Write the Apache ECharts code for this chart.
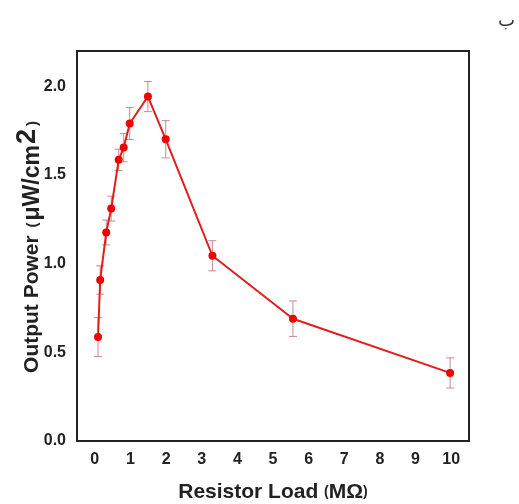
<!DOCTYPE html>
<html>
<head>
<meta charset="utf-8">
<script src="https://cdn.jsdelivr.net/npm/echarts@6/dist/echarts.min.js"></script>
<style>
html,body{margin:0;padding:0;background:#fff;}
#chart{width:519px;height:504px;}
</style>
</head>
<body>
<div id="chart"></div>
<script>
// Data
const xVals = [0.09, 0.15, 0.32, 0.46, 0.67, 0.81, 0.98, 1.49, 1.99, 3.30, 5.56, 9.97];
const yVals = [0.586, 0.908, 1.176, 1.311, 1.586, 1.655, 1.791, 1.943, 1.702, 1.045, 0.690, 0.384];
const errVals = [0.11, 0.08, 0.07, 0.07, 0.06, 0.08, 0.09, 0.085, 0.105, 0.085, 0.10, 0.085];
const xTicks = [0, 1, 2, 3, 4, 5, 6, 7, 8, 9, 10];
const yTicks = [0, 0.5, 1.0, 1.5, 2.0];

const points = xVals.map((x, i) => [x, yVals[i]]);
const errData = xVals.map((x, i) => [x, yVals[i] - errVals[i], yVals[i] + errVals[i]]);

const chart = echarts.init(document.getElementById('chart'), null, {renderer: 'canvas'});
const font = '"Liberation Sans", Arial, sans-serif';

chart.setOption({
  animation: false,
  backgroundColor: '#fff',
  grid: {left: 77, right: 50, top: 51, bottom: 63, outerBoundsMode: 'none', containLabel: false,
         show: true, borderColor: '#222', borderWidth: 2, backgroundColor: 'transparent'},
  xAxis: {
    type: 'value', min: -0.5, max: 10.5,
    axisLine: {show: false}, axisTick: {show: false}, splitLine: {show: false},
    axisLabel: {customValues: xTicks, fontFamily: font, fontWeight: 'bold', fontSize: 16, color: '#222', margin: 11},
    name: '{a|Resistor Load }{p|(}{a|MΩ}{p|)}',
    nameLocation: 'middle', nameGap: 41, nameMoveOverlap: false,
    nameTextStyle: {rich: {
      a: {fontFamily: font, fontWeight: 'bold', fontSize: 21, color: '#222'},
      p: {fontFamily: font, fontWeight: 'bold', fontSize: 14, color: '#222'}
    }}
  },
  yAxis: {
    type: 'value', min: 0, max: 2.2,
    axisLine: {show: false}, axisTick: {show: false}, splitLine: {show: false},
    axisLabel: {customValues: yTicks, formatter: v => v.toFixed(1), fontFamily: font, fontWeight: 'bold', fontSize: 16, color: '#222', margin: 11},
    name: '{a|Output Power }{p|(}{u|μW/cm}{s|2}{p|)}',
    nameLocation: 'middle', nameGap: 26, nameMoveOverlap: false,
    nameTextStyle: {rich: {
      a: {fontFamily: font, fontWeight: 'bold', fontSize: 21, color: '#222'},
      u: {fontFamily: font, fontWeight: 'bold', fontSize: 23, color: '#222'},
      s: {fontFamily: font, fontWeight: 'bold', fontSize: 27, color: '#222', verticalAlign: 'top', padding: [0, 1, 10, 1]},
      p: {fontFamily: font, fontWeight: 'bold', fontSize: 15, color: '#222', padding: [0, 2]}
    }}
  },
  graphic: [
    {type: 'text', left: 498, top: 12, style: {text: 'ب', font: '18px "Noto Sans", "DejaVu Sans"', fill: '#333'}}
  ],
  series: [
    {
      type: 'custom',
      data: errData,
      z: 1,
      renderItem: function (params, api) {
        const x = api.value(0);
        const lo = api.coord([x, api.value(1)]);
        const hi = api.coord([x, api.value(2)]);
        const w = 4;
        const st = {stroke: '#c98a8f', lineWidth: 1};
        return {type: 'group', children: [
          {type: 'line', shape: {x1: lo[0], y1: lo[1], x2: hi[0], y2: hi[1]}, style: st},
          {type: 'line', shape: {x1: lo[0] - w, y1: lo[1], x2: lo[0] + w, y2: lo[1]}, style: st},
          {type: 'line', shape: {x1: hi[0] - w, y1: hi[1], x2: hi[0] + w, y2: hi[1]}, style: st}
        ]};
      }
    },
    {
      type: 'line',
      data: points,
      z: 2,
      symbol: 'circle', symbolSize: 8,
      lineStyle: {color: '#e01e1e', width: 2},
      itemStyle: {color: '#f00000'}
    }
  ]
});
</script>
</body>
</html>
